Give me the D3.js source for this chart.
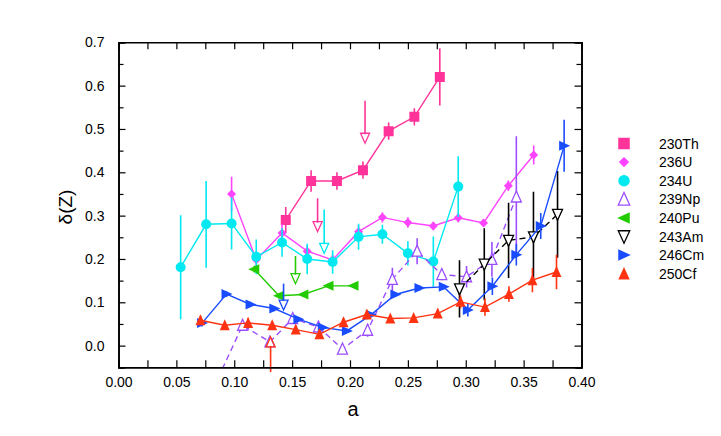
<!DOCTYPE html>
<html>
<head>
<meta charset="utf-8">
<script src="https://cdn.jsdelivr.net/npm/d3@7"></script>
<style>
body { margin: 0; background: #fff; }
text { font-family: "Liberation Sans", Arial, sans-serif; }
</style>
</head>
<body>
<div id="chart"></div>
<script>
// values
var names = ["230Th", "236U", "234U", "239Np", "240Pu", "243Am", "246Cm", "250Cf"];

var aTh230 = [0.1445, 0.1664, 0.1887, 0.2112, 0.2334, 0.2556, 0.2776];
var dTh230 = [0.290, 0.380, 0.380, 0.405, 0.495, 0.528, 0.620];
var eTh230 = [0.03, 0.025, 0.02, 0.02, 0.02, 0.02, 0.066];

var aU236 = [0.0977, 0.119, 0.1413, 0.163, 0.185, 0.2074, 0.228, 0.250, 0.272, 0.2935, 0.3154, 0.3368, 0.3587];
var dU236 = [0.350, 0.198, 0.260, 0.218, 0.198, 0.263, 0.296, 0.284, 0.276, 0.295, 0.283, 0.369, 0.440];
var eU236 = [0.04, 0.02, 0.02, 0.012, 0.012, 0.015, 0.012, 0.012, 0.01, 0.01, 0.008, 0.012, 0.022];

var aU234 = [0.0537, 0.0757, 0.0977, 0.119, 0.1413, 0.163, 0.185, 0.2074, 0.228, 0.250, 0.272, 0.2935];
var dU234 = [0.181, 0.280, 0.282, 0.205, 0.238, 0.200, 0.193, 0.251, 0.257, 0.213, 0.194, 0.367];
var eU234 = [0.12, 0.10, 0.06, 0.04, 0.033, 0.035, 0.027, 0.03, 0.022, 0.028, 0.058, 0.07];

var aNp239 = [0.086, 0.1072, 0.1308, 0.1505, 0.1727, 0.1935, 0.2152, 0.2366, 0.258, 0.2793, 0.3007, 0.3226, 0.3437];
var dNp239 = [-0.075, 0.047, 0.0085, 0.0626, 0.043, -0.008, 0.0355, 0.153, 0.218, 0.164, 0.159, 0.199, 0.343];
var eNp239 = [0, 0.01, 0.01, 0.01, 0.01, 0.012, 0.015, 0.027, 0.03, 0.013, 0.025, 0.04, 0.14];

var aPu240 = [0.1173, 0.1387, 0.1597, 0.1814, 0.203];
var dPu240 = [0.1765, 0.115, 0.118, 0.138, 0.138];
var ePu240 = [0.008, 0.006, 0.005, 0.005, 0.005];

var aAm243 = [0.2946, 0.316, 0.337, 0.3585, 0.3793];
var dAm243 = [0.131, 0.188, 0.243, 0.251, 0.303];
var eAm243 = [0.066, 0.083, 0.087, 0.104, 0.10];

var aCm246 = [0.0722, 0.0933, 0.1141, 0.1346, 0.1554, 0.1765, 0.1973, 0.2181, 0.2392, 0.26, 0.281, 0.3018, 0.323, 0.3437, 0.3648, 0.385];
var dCm246 = [0.052, 0.119, 0.095, 0.0856, 0.061, 0.042, 0.034, 0.071, 0.118, 0.133, 0.1356, 0.082, 0.137, 0.210, 0.276, 0.461];
var eCm246 = [0.008, 0.006, 0.006, 0.006, 0.005, 0.005, 0.005, 0.006, 0.006, 0.006, 0.006, 0.015, 0.02, 0.025, 0.03, 0.06];

var aCf250 = [0.0708, 0.0918, 0.112, 0.1328, 0.1531, 0.1736, 0.1944, 0.2146, 0.2348, 0.255, 0.2758, 0.2955, 0.3166, 0.3373, 0.3576, 0.3784];
var dCf250 = [0.0587, 0.047, 0.0524, 0.047, 0.037, 0.026, 0.054, 0.0718, 0.0626, 0.064, 0.074, 0.101, 0.089, 0.119, 0.151, 0.170];
var eCf250 = [0.01, 0.008, 0.012, 0.01, 0.01, 0.01, 0.01, 0.008, 0.006, 0.006, 0.01, 0.015, 0.02, 0.018, 0.028, 0.04];

// limit arrows: series index, a, start of stem, tip
var limSeries = [0, 0, 2, 4, 6, 7];
var limA = [0.172, 0.213, 0.1777, 0.1529, 0.1426, 0.1314];
var limFrom = [0.34, 0.565, 0.314, 0.207, 0.143, -0.061];
var limTip = [0.263, 0.467, 0.213, 0.143, 0.082, 0.02];

var xTicks = [0, 0.05, 0.10, 0.15, 0.20, 0.25, 0.30, 0.35, 0.40];
var yTicks = [0.0, 0.1, 0.2, 0.3, 0.4, 0.5, 0.6, 0.7];

var width = 721, height = 436;
var pLeft = 118.5, pRight = 581.5, pTop = 42.3, pBottom = 367.3;

var allA = [aTh230, aU236, aU234, aNp239, aPu240, aAm243, aCm246, aCf250];
var allD = [dTh230, dU236, dU234, dNp239, dPu240, dAm243, dCm246, dCf250];
var allE = [eTh230, eU236, eU234, eNp239, ePu240, eAm243, eCm246, eCf250];
var colors = ["#ff3399", "#ff44ff", "#00e8f0", "#9b4dff", "#22cc00", "#000000", "#1a4cff", "#ff3311"];
var shapes = ["square", "diamond", "circle", "tri-up-open", "tri-left", "tri-down-open", "tri-right", "tri-up"];
var dashed = [false, false, false, true, false, true, false, false];

var svg = d3.select("#chart").append("svg")
	.attr("width", width).attr("height", height);

var xScale = d3.scaleLinear().domain([0, 0.40]).range([pLeft, pRight]);
var yScale = d3.scaleLinear().domain([-0.05, 0.70]).range([pBottom, pTop]);

svg.append("clipPath").attr("id", "plotclip")
	.append("rect")
	.attr("x", pLeft).attr("y", pTop)
	.attr("width", pRight - pLeft).attr("height", pBottom - pTop);

function markerPath(shape, s) {
	var h = s / 2;
	if (shape == "square") return "M" + (-h) + "," + (-h) + "h" + s + "v" + s + "h" + (-s) + "Z";
	if (shape == "diamond") return "M0," + (-h) + "L" + h + ",0L0," + h + "L" + (-h) + ",0Z";
	if (shape == "tri-up" || shape == "tri-up-open") return "M0," + (-h - 1) + "L" + h + "," + (h) + "L" + (-h) + "," + (h) + "Z";
	if (shape == "tri-down-open") return "M0," + (h + 1) + "L" + h + "," + (-h) + "L" + (-h) + "," + (-h) + "Z";
	if (shape == "tri-left") return "M" + (-h - 1) + ",0L" + h + "," + (-h) + "L" + h + "," + h + "Z";
	if (shape == "tri-right") return "M" + (h + 1) + ",0L" + (-h) + "," + (-h) + "L" + (-h) + "," + h + "Z";
	return null;
}

function drawMarker(g, shape, color, x, y, k) {
	k = k || 1;
	if (shape == "circle") {
		g.append("circle").attr("cx", x).attr("cy", y).attr("r", 5 * k).attr("fill", color);
		return;
	}
	var open = shape.indexOf("open") >= 0;
	var size = (shape == "diamond" ? 9 : 10) * k;
	g.append("path")
		.attr("d", markerPath(shape, size))
		.attr("transform", "translate(" + x + "," + y + ")")
		.attr("fill", open ? "#fff" : color)
		.attr("stroke", open ? color : "none")
		.attr("stroke-width", 1.3);
}

var plot = svg.append("g");

// series: error bars, lines, markers
names.forEach(function (name, i) {
	var pts = allA[i].map(function (a, j) {
		return { a: a, d: allD[i][j], e: allE[i][j] };
	});
	var g = plot.append("g").attr("clip-path", "url(#plotclip)");

	pts.forEach(function (p) {
		if (p.e > 0) {
			g.append("line")
				.attr("x1", xScale(p.a)).attr("x2", xScale(p.a))
				.attr("y1", yScale(p.d - p.e)).attr("y2", yScale(p.d + p.e))
				.attr("stroke", colors[i]).attr("stroke-width", 1.6);
		}
	});

	var line = d3.line()
		.x(function (p) { return xScale(p.a); })
		.y(function (p) { return yScale(p.d); });
	g.append("path")
		.attr("d", line(pts))
		.attr("fill", "none")
		.attr("stroke", colors[i])
		.attr("stroke-width", 1.4)
		.attr("stroke-dasharray", dashed[i] ? "6,4" : null);

	pts.forEach(function (p) {
		drawMarker(g, shapes[i], colors[i], xScale(p.a), yScale(p.d));
	});
});

// limit arrows
limA.forEach(function (a, k) {
	var c = colors[limSeries[k]];
	var x = xScale(a), y0 = yScale(limFrom[k]), y1 = yScale(limTip[k]);
	var dir = y1 > y0 ? 1 : -1;
	plot.append("line")
		.attr("x1", x).attr("x2", x)
		.attr("y1", y0).attr("y2", y1 - dir * 9)
		.attr("stroke", c).attr("stroke-width", 1.6);
	plot.append("path")
		.attr("d", "M" + x + "," + y1 + "L" + (x - 4.5) + "," + (y1 - dir * 10) + "L" + (x + 4.5) + "," + (y1 - dir * 10) + "Z")
		.attr("fill", "none").attr("stroke", c).attr("stroke-width", 1.3);
});

// axes, ticks pointing inward on all four sides
var minorX = d3.range(0, 0.4001, 0.025);
var minorY = d3.range(-0.05, 0.7001, 0.1);

function styleAxis(g) {
	g.attr("font-size", 14);
	g.select(".domain").attr("stroke", "#000").attr("stroke-width", 1.6);
	g.selectAll(".tick line").attr("stroke", "#000").attr("stroke-width", 1.2);
	g.selectAll("text").attr("font-size", 14).attr("fill", "#000");
}

svg.append("g")
	.attr("transform", "translate(0," + pBottom + ")")
	.call(d3.axisBottom(xScale).tickValues(minorX).tickSize(-7).tickFormat(""))
	.call(styleAxis);
svg.append("g")
	.attr("transform", "translate(0," + pBottom + ")")
	.call(d3.axisBottom(xScale).tickValues(xTicks).tickSize(0).tickPadding(10).tickFormat(d3.format(".2f")))
	.call(styleAxis);
svg.append("g")
	.attr("transform", "translate(0," + pTop + ")")
	.call(d3.axisTop(xScale).tickValues(minorX).tickSize(-7).tickFormat(""))
	.call(styleAxis);

svg.append("g")
	.attr("transform", "translate(" + pLeft + ",0)")
	.call(d3.axisLeft(yScale).tickValues(minorY).tickSize(-5).tickFormat(""))
	.call(styleAxis);
svg.append("g")
	.attr("transform", "translate(" + pLeft + ",0)")
	.call(d3.axisLeft(yScale).tickValues(yTicks).tickSize(-7).tickPadding(14).tickFormat(d3.format(".1f")))
	.call(styleAxis);
svg.append("g")
	.attr("transform", "translate(" + pRight + ",0)")
	.call(d3.axisRight(yScale).tickValues(minorY).tickSize(-5).tickFormat(""))
	.call(styleAxis);
svg.append("g")
	.attr("transform", "translate(" + pRight + ",0)")
	.call(d3.axisRight(yScale).tickValues(yTicks).tickSize(-7).tickFormat(""))
	.call(styleAxis);

// axis titles
svg.append("text")
	.attr("x", (pLeft + pRight) / 2 + 3).attr("y", 416)
	.attr("text-anchor", "middle").attr("font-size", 20)
	.text("a");
svg.append("text")
	.attr("transform", "translate(72," + 207 + ") rotate(-90)")
	.attr("text-anchor", "middle").attr("font-size", 19)
	.text("δ(Z)");

// legend
var legend = svg.append("g");
names.forEach(function (name, i) {
	var y = 143.5 + i * 18.6;
	drawMarker(legend, shapes[i], colors[i], 624, y, 1.15);
	legend.append("text")
		.attr("x", 659).attr("y", y + 5)
		.attr("font-size", 14)
		.text(name);
});
</script>
</body>
</html>
